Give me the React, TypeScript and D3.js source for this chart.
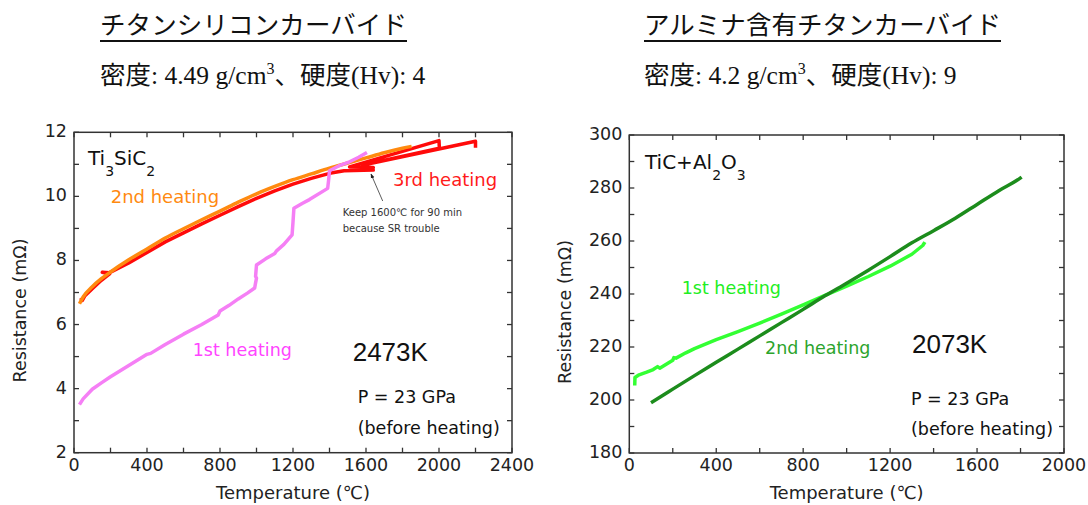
import React from 'react';
import * as d3 from 'd3';

type Pt = [number, number];

// Ti3SiC2 runs: [temperature ℃, resistance mΩ]
const tiHeat1: Pt[] = [
  [30, 3.5], [50, 3.68], [100, 3.98], [150, 4.18], [200, 4.37], [300, 4.72], [400, 5.07],
  [420, 5.1], [500, 5.38], [600, 5.7], [700, 6.0], [790, 6.3], [800, 6.42], [850, 6.6],
  [900, 6.8], [950, 6.98], [990, 7.14], [995, 7.3], [1000, 7.45], [995, 7.5], [1000, 7.86],
  [1050, 8.05], [1100, 8.22], [1110, 8.3], [1150, 8.5], [1195, 8.8], [1200, 9.2], [1205, 9.63],
  [1250, 9.78], [1290, 9.9], [1390, 10.25], [1395, 10.5], [1400, 10.8], [1450, 10.95],
  [1510, 11.08], [1560, 11.22], [1605, 11.37],
];
const tiHeat2: Pt[] = [
  [30, 6.65], [50, 6.86], [100, 7.18], [150, 7.43], [200, 7.64], [300, 8.02], [400, 8.36],
  [500, 8.7], [600, 8.99], [700, 9.27], [800, 9.54], [900, 9.82], [1000, 10.08], [1100, 10.31],
  [1200, 10.52], [1300, 10.7], [1400, 10.88], [1500, 11.04], [1600, 11.2], [1700, 11.36],
  [1800, 11.5], [1850, 11.56],
];
const tiHeat3: Pt[] = [
  [37, 6.83], [45, 6.75], [60, 6.9], [100, 7.12], [150, 7.38], [195, 7.58], [155, 7.63],
  [195, 7.62], [300, 7.92], [400, 8.25], [500, 8.58], [600, 8.86], [700, 9.14], [800, 9.41],
  [900, 9.68], [1000, 9.94], [1100, 10.17], [1200, 10.38], [1300, 10.56], [1400, 10.72],
  [1480, 10.8], [1640, 10.82], [1520, 10.86], [1640, 10.9], [1510, 10.92], [2000, 11.74],
  [2002, 11.5], [1584, 10.98], [2200, 11.72], [2200, 11.52],
];

// TiC+Al2O3 runs
const alHeat1: Pt[] = [
  [25, 205.5], [26, 208.5], [45, 209.5], [80, 210.5], [110, 211.5], [130, 212.6], [140, 212.0],
  [200, 215], [205, 216], [215, 215.8], [260, 217.8], [300, 219.4], [400, 222.8], [500, 225.8],
  [600, 229], [700, 232.4], [800, 235.9], [900, 239.5], [1000, 243], [1100, 246.6], [1200, 250.5],
  [1300, 255], [1350, 258.3], [1360, 259.6],
];
const alHeat2: Pt[] = [
  [100, 199], [200, 204.1], [300, 209.2], [400, 214.2], [500, 219.2], [600, 224.2], [700, 229.2],
  [800, 234.2], [900, 239.3], [1000, 244.1], [1100, 249], [1200, 254.1], [1300, 259.3],
  [1400, 263.9], [1500, 268.6], [1600, 273.8], [1700, 279], [1800, 283.8], [1805, 284.1],
];

const tiXTicks = [0, 400, 800, 1200, 1600, 2000, 2400];
const tiYTicks = [2, 4, 6, 8, 10, 12];
const alXTicks = [0, 400, 800, 1200, 1600, 2000];
const alYTicks = [180, 200, 220, 240, 260, 280, 300];

const SANS = "'DejaVu Sans', Verdana, sans-serif";
const ARIAL = "'Liberation Sans', Arial, sans-serif";
const JP = "'Noto Sans CJK JP', sans-serif";
const SERIF = "'Liberation Serif', 'Times New Roman', serif";
const AXIS = '#333';

interface FrameProps {
  x: d3.ScaleLinear<number, number>;
  y: d3.ScaleLinear<number, number>;
  xTicks: number[];
  yTicks: number[];
  xMinor: number;
  yMinor: number;
  titleX: number;
}

const Frame: React.FC<FrameProps> = ({ x, y, xTicks, yTicks, xMinor, yMinor, titleX }) => {
  const [x0, x1] = x.range();
  const [y0, y1] = y.range();
  const xm = d3.range(x.domain()[0], x.domain()[1] + 1, xMinor);
  const ym = d3.range(y.domain()[0], y.domain()[1] + 0.001, yMinor);
  const tk = 5;
  return (
    <g>
      {xm.map((v) => (
        <g key={'x' + v} stroke={AXIS} strokeWidth={1.3}>
          <line x1={x(v)} x2={x(v)} y1={y0} y2={y0 - tk} />
          <line x1={x(v)} x2={x(v)} y1={y1} y2={y1 + tk} />
        </g>
      ))}
      {ym.map((v) => (
        <g key={'y' + v} stroke={AXIS} strokeWidth={1.3}>
          <line x1={x0} x2={x0 + tk} y1={y(v)} y2={y(v)} />
          <line x1={x1} x2={x1 - tk} y1={y(v)} y2={y(v)} />
        </g>
      ))}
      <rect x={x0} y={y1} width={x1 - x0} height={y0 - y1} fill="none" stroke={AXIS} strokeWidth={1.5} />
      {xTicks.map((v) => (
        <text key={'xl' + v} x={x(v)} y={y0 + 18} textAnchor="middle" fontFamily={SANS} fontSize={17.5} fill="#222">
          {v}
        </text>
      ))}
      {yTicks.map((v) => (
        <text key={'yl' + v} x={x0 - 7} y={y(v) + 5} textAnchor="end" fontFamily={SANS} fontSize={17.5} fill="#222">
          {v}
        </text>
      ))}
      <text x={(x0 + x1) / 2} y={499} textAnchor="middle" fontFamily={SANS} fontSize={18} fill="#222">
        Temperature (℃)
      </text>
      <text
        transform={`translate(${titleX},${(y0 + y1) / 2 + 18}) rotate(-90)`}
        textAnchor="middle"
        fontFamily={SANS}
        fontSize={17.5}
        fill="#222"
      >
        Resistance (mΩ)
      </text>
    </g>
  );
};

export default function App() {
  const tx = d3.scaleLinear().domain([0, 2400]).range([74, 512]);
  const ty = d3.scaleLinear().domain([2, 12]).range([452.7, 132.3]);
  const ax = d3.scaleLinear().domain([0, 2000]).range([629.3, 1064]);
  const ay = d3.scaleLinear().domain([180, 300]).range([453, 135]);

  const tLine = d3.line<Pt>().x((d) => tx(d[0])).y((d) => ty(d[1]));
  const tSmooth = d3.line<Pt>().x((d) => tx(d[0])).y((d) => ty(d[1])).curve(d3.curveMonotoneX);
  const aLine = d3.line<Pt>().x((d) => ax(d[0])).y((d) => ay(d[1]));
  const aSmooth = d3.line<Pt>().x((d) => ax(d[0])).y((d) => ay(d[1])).curve(d3.curveMonotoneX);

  return (
    <svg
      width={1088}
      height={505}
      viewBox="0 0 1088 505"
      style={{ position: 'absolute', left: 0, top: 0, background: '#fff' }}
    >
      <defs>
        <marker id="arr" viewBox="0 0 10 10" refX={9} refY={5} markerWidth={6} markerHeight={6} orient="auto">
          <path d="M0,1 L10,5 L0,9 Z" fill="#222" />
        </marker>
      </defs>

      {/* headers */}
      <text x={100} y={34} fontFamily={JP} fontSize={25.5} fill="#111" textLength={307} lengthAdjust="spacing">
        チタンシリコンカーバイド
      </text>
      <line x1={100} x2={407} y1={41} y2={41} stroke="#111" strokeWidth={2} />
      <text x={100} y={84} fontSize={25.5} fill="#111">
        <tspan fontFamily={JP}>密度</tspan>
        <tspan fontFamily={SERIF}>: 4.49 g/cm</tspan>
        <tspan fontFamily={SERIF} fontSize={16} dy={-10}>3</tspan>
        <tspan fontFamily={JP} dy={10}>、硬度</tspan>
        <tspan fontFamily={SERIF}>(Hv): 4</tspan>
      </text>

      <text x={644} y={34} fontFamily={JP} fontSize={25.5} fill="#111" textLength={357} lengthAdjust="spacing">
        アルミナ含有チタンカーバイド
      </text>
      <line x1={644} x2={1001} y1={41} y2={41} stroke="#111" strokeWidth={2} />
      <text x={644} y={84} fontSize={25.5} fill="#111">
        <tspan fontFamily={JP}>密度</tspan>
        <tspan fontFamily={SERIF}>: 4.2 g/cm</tspan>
        <tspan fontFamily={SERIF} fontSize={16} dy={-10}>3</tspan>
        <tspan fontFamily={JP} dy={10}>、硬度</tspan>
        <tspan fontFamily={SERIF}>(Hv): 9</tspan>
      </text>

      {/* left panel */}
      <Frame x={tx} y={ty} xTicks={tiXTicks} yTicks={tiYTicks} xMinor={200} yMinor={1} titleX={26} />
      <path d={tLine(tiHeat3) ?? ''} fill="none" stroke="#ff0a0a" strokeWidth={3.5} strokeLinejoin="round" />
      <path d={tSmooth(tiHeat2) ?? ''} fill="none" stroke="#ff8a0f" strokeWidth={3.5} strokeLinejoin="round" />
      <path d={tLine(tiHeat1) ?? ''} fill="none" stroke="#f57ff5" strokeWidth={3.5} strokeLinejoin="round" />

      <text x={88} y={165} fontFamily={SANS} fontSize={20} fill="#111">
        Ti<tspan fontSize={14} dy={11}>3</tspan>
        <tspan dy={-11}>SiC</tspan>
        <tspan fontSize={14} dy={11}>2</tspan>
      </text>
      <text x={110.7} y={203} fontFamily={SANS} fontSize={18} fill="#ff8a10">2nd heating</text>
      <text x={393} y={186} fontFamily={SANS} fontSize={18} fill="#ff1a1a">3rd heating</text>
      <text x={192.7} y={356} fontFamily={SANS} fontSize={17.5} fill="#ff44ff">1st heating</text>
      <text x={352.7} y={361} fontFamily={ARIAL} fontSize={26} fill="#111">2473K</text>
      <text x={357.7} y={403} fontFamily={SANS} fontSize={17.5} fill="#111">P = 23 GPa</text>
      <text x={357.7} y={434} fontFamily={SANS} fontSize={17.5} fill="#111">(before heating)</text>

      <line x1={382.7} y1={201} x2={371} y2={174} stroke="#333" strokeWidth={0.8} markerEnd="url(#arr)" />
      <text x={342.7} y={216} fontFamily={SANS} fontSize={10} fill="#333">Keep 1600℃ for 90 min</text>
      <text x={342.7} y={232} fontFamily={SANS} fontSize={10} fill="#333">because SR trouble</text>

      {/* right panel */}
      <Frame x={ax} y={ay} xTicks={alXTicks} yTicks={alYTicks} xMinor={200} yMinor={10} titleX={571} />
      <path d={aLine(alHeat1) ?? ''} fill="none" stroke="#33ff33" strokeWidth={3.5} strokeLinejoin="round" />
      <path d={aSmooth(alHeat2) ?? ''} fill="none" stroke="#1c8c1c" strokeWidth={3.5} strokeLinejoin="round" />

      <text x={645} y={169} fontFamily={SANS} fontSize={20} fill="#111">
        TiC+Al<tspan fontSize={14} dy={11}>2</tspan>
        <tspan dy={-11}>O</tspan>
        <tspan fontSize={14} dy={11}>3</tspan>
      </text>
      <text x={681.7} y={294} fontFamily={SANS} fontSize={17.5} fill="#22ee22">1st heating</text>
      <text x={765} y={354} fontFamily={SANS} fontSize={17.5} fill="#2ca42c">2nd heating</text>
      <text x={912} y={353} fontFamily={ARIAL} fontSize={26} fill="#111">2073K</text>
      <text x={911} y={405} fontFamily={SANS} fontSize={17.5} fill="#111">P = 23 GPa</text>
      <text x={911} y={435} fontFamily={SANS} fontSize={17.5} fill="#111">(before heating)</text>
    </svg>
  );
}
